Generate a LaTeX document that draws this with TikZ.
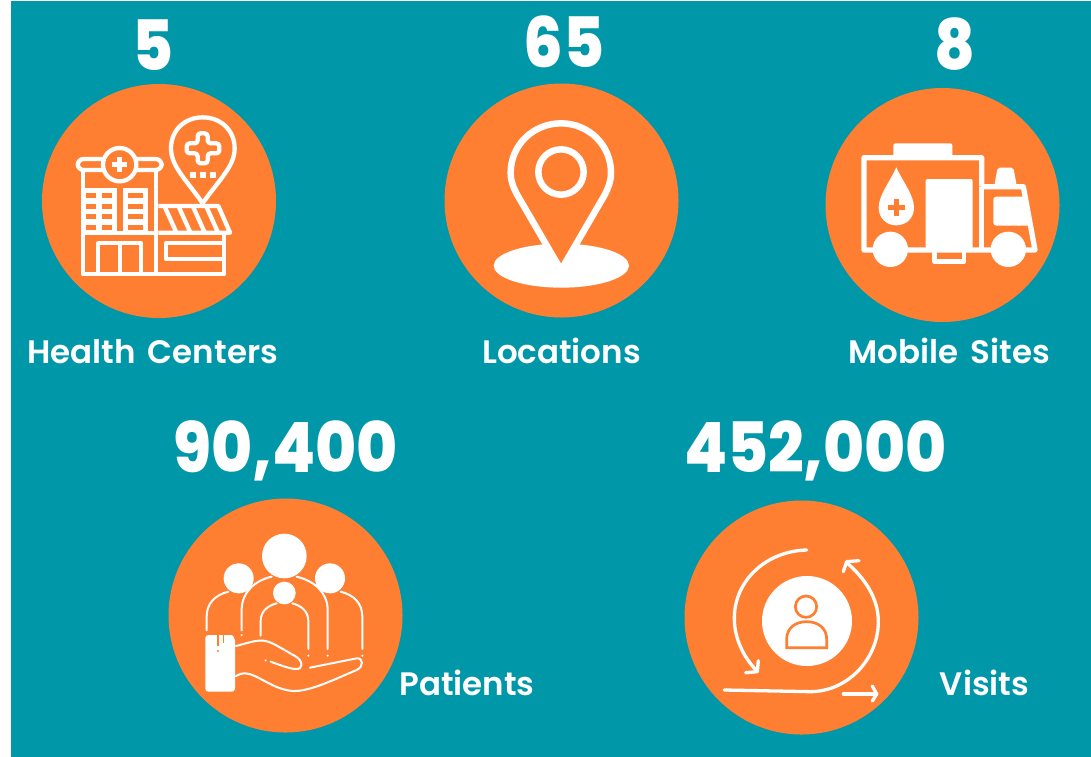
\documentclass[tikz,border=0pt]{standalone}
\usepackage{graphicx}
\usepackage{fontspec}
\setmainfont{Poppins}
\newfontfamily\numfont{Poppins}[UprightFont=*-ExtraBold]
\newfontfamily\labfont{Poppins}[UprightFont=*-SemiBold,WordSpace=1.6]
\newcommand{\tallnum}[1]{\scalebox{1.01}[1.12]{#1}}
\definecolor{teal}{HTML}{0097A9}
\definecolor{org}{HTML}{FF7F32}
\tikzset{
 disc/.style={circle,fill=org,minimum size=234pt,inner sep=0pt,draw=none},
 bignum/.style={text=white,font=\numfont\fontsize{62}{62}\selectfont,inner sep=0pt,anchor=base},
 lab/.style={text=white,font=\labfont\fontsize{32.5}{32.5}\selectfont,inner sep=0pt,anchor=base},
 wl/.style={draw=white,line join=round},
 icon/.style={x=0.33333pt,y=-0.33333pt},
}
\begin{document}
\begin{tikzpicture}[x=1pt,y=-1pt]
\useasboundingbox (0,0) rectangle (1091,756);
\fill[white] (0,0) rectangle (1091,756);
\fill[teal] (11,1) rectangle (1092,757);
\node[disc] (d1) at (159,201) {};
\node[disc] (d2) at (561.5,200.5) {};
\node[disc] (d3) at (942.5,205) {};
\node[disc] (d4) at (285.5,615.5) {};
\node[disc] (d5) at (801.5,617.5) {};
\node[bignum] (n1) at (153,70) {\tallnum{5}};
\node[bignum] (n2) at (564,67) {\tallnum{65}};
\node[bignum] (n3) at (955,69) {\tallnum{8}};
\node[bignum] (n4) at (285.5,472) {\tallnum{90,400}};
\node[bignum] (n5) at (815.5,472) {\tallnum{452,000}};
\node[lab] (l1) at (152.5,363) {Health Centers};
\node[lab] (l2) at (561.5,363) {Locations};
\node[lab] (l3) at (949,363) {Mobile Sites};
\node[lab] (l4) at (467,695) {Patients};
\node[lab] (l5) at (984.5,695) {Visits};
% hospital
\begin{scope}[shift={(30,80)},icon]
\begin{scope}[wl,line width=4.3pt]
\draw[rounded corners=6pt] (143,237) rectangle (395,270);
\draw (160,270) -- (160,583) -- (583,583) -- (583,465);
\draw (378,270) -- (378,583);
\draw (205,583) -- (205,490) -- (332,490) -- (332,583);
\draw (270,490) -- (270,583);
\draw (583,490) -- (408,490) -- (408,537) -- (583,537);
\draw (160,460) -- (378,460);
\draw (385,378) -- (565,378) -- (600,458) -- (385,458);
\foreach \a in {405,447,490,530} \draw (\a,382) -- (\a+33,455);
\draw[fill=org] (269,254) circle (50);
\draw[fill=org] (518,370) .. controls (470,300) and (423,260) .. (423,205) .. controls (423,150) and (465,112) .. (518,112) .. controls (571,112) and (614,150) .. (614,205) .. controls (614,260) and (566,300) .. (518,370);
\draw[rounded corners=3pt] (503,160) -- (533,160) -- (533,190) -- (568,190) -- (568,220) -- (533,220) -- (533,250)  -- (503,250) -- (503,220) -- (470,220) -- (470,190) -- (503,190) -- cycle;
\end{scope}
\fill[white] (262,232) rectangle (276,276);
\fill[white] (247,247) rectangle (291,261);
\foreach \a in {488,518,548} \fill[white] (\a-9,276) rectangle (\a+9,294);
\fill[white] (160,325) rectangle (262,465);
\fill[white] (278,325) rectangle (355,465);
\foreach \b in {340,372,403,434}{
 \fill[org] (168,\b) rectangle (198,\b+15);
 \fill[org] (216,\b) rectangle (246,\b+15);
 \fill[org] (295,\b) rectangle (340,\b+15);}
\end{scope}
% location
\begin{scope}[shift={(440,80)},icon]
\fill[white] (364,557) ellipse (203 and 66);
\draw[wl,line width=6.5pt,fill=org,miter limit=10,line join=miter] (363,570) -- (232,345) .. controls (220,322) and (212,305) .. (212,278) .. controls (212,195) and (280,130) .. (363,130) .. controls (446,130) and (513,195) .. (513,278) .. controls (513,305) and (505,322) .. (494,345) -- cycle;
\draw[wl,line width=6.5pt] (363,276) circle (68);
\end{scope}
% ambulance
\begin{scope}[shift={(815,85)},icon]
\draw[wl,line width=5.3pt] (500,305) -- (500,218) -- (147,218) -- (147,495) -- (660,495) -- (625,305) -- (500,305);
\draw[wl,line width=5.3pt] (500,305) -- (500,495);
\fill[white,rounded corners=2pt] (235,215) -- (235,175) -- (412,175) -- (412,215) -- cycle;
\fill[white,rounded corners=2pt] (332,490) -- (332,282) -- (473,282) -- (473,490) -- cycle;
\fill[white,rounded corners=3pt] (535,335) rectangle (620,422);
\fill[white] (610,335) -- (632,335) -- (647,422) -- (610,422) -- cycle;
\fill[white,rounded corners=2pt] (538,300) -- (548,248) -- (595,248) -- (605,300) -- cycle;
\draw[wl,line width=4.7pt] (358,497) -- (358,530) -- (447,530) -- (447,497);
\fill[white] (226,493) circle (53);
\fill[white] (580,493) circle (53);
\fill[white] (244,247) .. controls (225,290) and (191,330) .. (191,368) .. controls (191,400) and (215,421) .. (244,421) .. controls (273,421) and (297,400) .. (297,368) .. controls (297,330) and (263,290) .. (244,247) -- cycle;
\fill[org] (236,342) rectangle (252,394);
\fill[org] (218,360) rectangle (270,376);
\end{scope}
% patients
\begin{scope}[shift={(160,495)},icon]
\fill[white] (373,183) circle (67);
\fill[white] (236,250) circle (45);
\fill[white] (510,250) circle (45);
\fill[white] (373,294) circle (34);
\begin{scope}[wl,line width=2pt,line cap=round]
\draw (205,290) .. controls (165,300) and (140,325) .. (140,365) -- (140,406);
\draw (335,245) .. controls (280,258) and (245,295) .. (245,345) -- (245,406);
\draw (410,245) .. controls (465,258) and (503,295) .. (503,345) -- (503,462);
\draw (542,290) .. controls (582,300) and (607,325) .. (607,365) -- (607,462);
\draw (350,325) .. controls (322,332) and (302,350) .. (302,378) -- (302,422);
\draw (397,325) .. controls (425,332) and (445,350) .. (445,378) -- (445,462);
\foreach \p in {(245,420),(503,482),(607,482),(445,482),(317,496)} \fill[white] \p circle (3.5);
\draw (228,453) .. controls (260,445) and (285,435) .. (310,437) .. controls (335,440) and (355,455) .. (405,483) .. controls (430,497) and (432,525) .. (405,522) .. controls (385,520) and (360,510) .. (332,500);
\draw (450,518) -- (590,490) .. controls (610,488) and (612,515) .. (590,525) .. controls (530,550) and (450,590) .. (400,588) .. controls (340,585) and (290,535) .. (255,535) .. controls (240,535) and (235,540) .. (228,543);
\end{scope}
\fill[white,rounded corners=3pt] (136,590) -- (136,420) -- (205,420) .. controls (218,420) and (225,430) .. (225,445) -- (225,590) -- cycle;
\fill[org] (172,420) rectangle (177,452);
\fill[org] (188,420) rectangle (193,445);
\fill[org] (174,468) circle (3.5);
\end{scope}
% visits
\begin{scope}[shift={(680,495)},icon]
\fill[white] (381,378) circle (135);
\draw[draw=org,line width=2.7pt] (378,335) circle (32);
\draw[draw=org,line width=2.7pt,line join=miter] (320,458) -- (320,432) .. controls (320,400) and (345,380) .. (380,380) .. controls (415,380) and (440,400) .. (440,432) -- (440,458) -- cycle;
\begin{scope}[wl,line width=3.3pt,line cap=round]
\draw (380,165) .. controls (260,168) and (163,255) .. (163,370) .. controls (163,430) and (190,485) .. (228,525);
\draw (235,497) -- (232,530) -- (197,533);
\draw (133,585) -- (390,590) .. controls (505,590) and (595,490) .. (595,380) .. controls (595,310) and (555,250) .. (500,203);
\draw (537,197) -- (500,200) -- (490,230);
\draw (490,597) -- (590,597);
\draw (577,573) -- (590,597) -- (577,618);
\end{scope}
\end{scope}
\end{tikzpicture}
\end{document}
